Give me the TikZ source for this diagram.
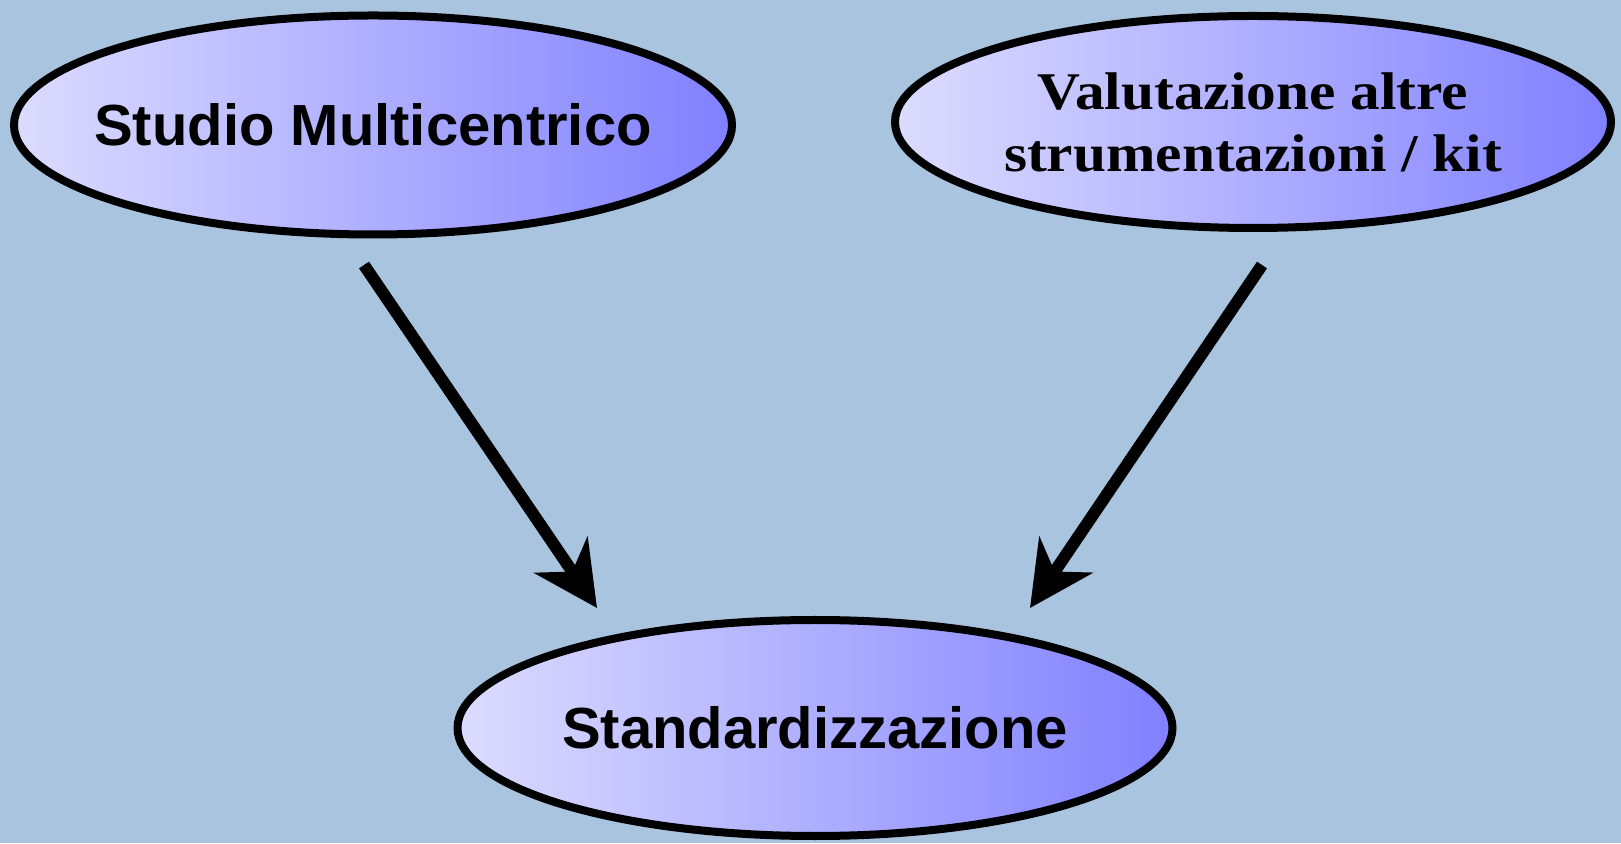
\documentclass[tikz,border=0pt]{standalone}
\usepackage{fontspec}
\usepackage{tikz}
\usetikzlibrary{shapes.geometric,arrows.meta}
\setmainfont{Liberation Serif}
\setsansfont{Liberation Sans}
\newfontfamily\valfont[FakeStretch=1.12]{Liberation Serif}

\definecolor{bgblue}{RGB}{168,196,223}
\definecolor{lilaclight}{RGB}{220,220,255}
\definecolor{lilacdark}{RGB}{128,128,255}

\begin{document}
\begin{tikzpicture}[x=1pt,y=1pt,
    bubble/.style={ellipse,draw=black,line width=8pt,left color=lilaclight,right color=lilacdark,minimum width=718pt,minimum height=216pt},
    sanslabel/.style={font=\fontsize{58}{62}\selectfont\sffamily\bfseries},
    seriflabel/.style={font=\fontsize{53}{62}\selectfont\valfont\bfseries,align=center},
    fatarrow/.style={line width=12pt,-{Stealth[length=64pt,width=64pt,inset=20pt]}}]
\fill[bgblue] (0,0) rectangle (1621,843);
\useasboundingbox (0,0) rectangle (1621,843);
\node[bubble,minimum width=718pt,minimum height=219pt] (0) at (373,718) {};
\node[bubble,minimum width=716pt,minimum height=212pt] (1) at (1253,721) {};
\node[bubble,minimum width=715pt,minimum height=216pt] (2) at (815,115) {};
\node[sanslabel] (0t) at (0) {Studio Multicentrico};
\node[seriflabel] (1t) at (1) {Valutazione altre\\strumentazioni / kit};
\node[sanslabel] (2t) at (2) {Standardizzazione};
\coordinate (0s) at (364,578);
\coordinate (1s) at (1262,578);
\coordinate (2a) at (597,235);
\coordinate (2b) at (1030,235);
\draw[fatarrow] (0s) -- (2a);
\draw[fatarrow] (1s) -- (2b);
\end{tikzpicture}
\end{document}
